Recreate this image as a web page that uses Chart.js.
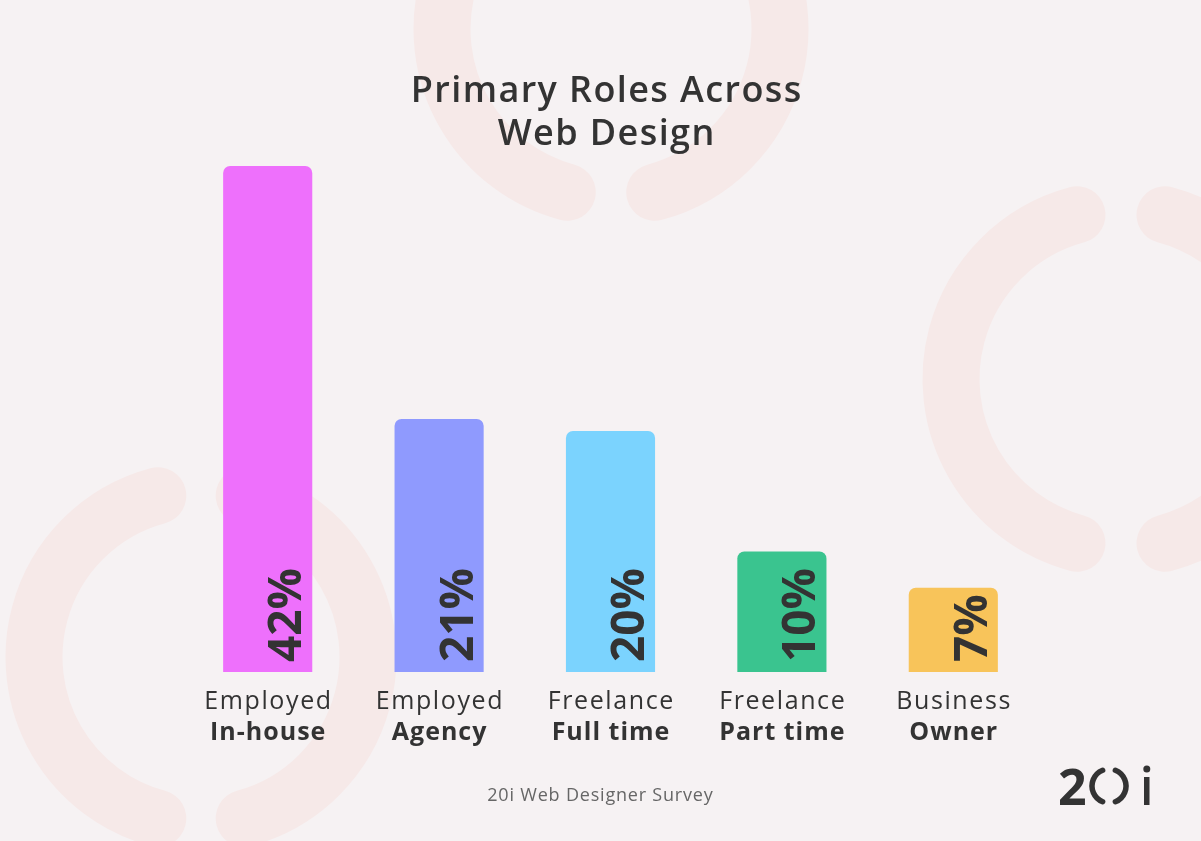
<!DOCTYPE html>
<html>
<head>
<meta charset="utf-8">
<title>Primary Roles Across Web Design</title>
<script src="https://cdn.jsdelivr.net/npm/chart.js@4/dist/chart.umd.min.js"></script>
<style>
  html, body { margin: 0; padding: 0; background: #f6f2f3; }
  #wrap { width: 1201px; height: 841px; position: relative; }
</style>
</head>
<body>
<div id="wrap"><canvas id="chart" width="1201" height="841"></canvas></div>
<script>
/* global Chart */

// ---------- Data ----------
const roleGroups = ['Employed', 'Employed', 'Freelance', 'Freelance', 'Business'];
const roleNames = ['In-house', 'Agency', 'Full time', 'Part time', 'Owner'];
const sharePct = [42, 21, 20, 10, 7];
const barColors = ['#ee70fc', '#8f9afe', '#7bd3fe', '#3ac48f', '#f8c45a'];

const TITLE_LINES = ['Primary Roles Across', 'Web Design'];
const SOURCE = '20i Web Designer Survey';

const FONT = "'Open Sans', 'DejaVu Sans', sans-serif";
const INK = '#333333';
const RING = '#f6e9e8';

// ---------- Decoration (background rings + logo) ----------

function ring(ctx, cx, cy, r) {
  const gap = 15 * Math.PI / 180;
  ctx.save();
  ctx.strokeStyle = RING;
  ctx.lineWidth = 57;
  ctx.lineCap = 'round';
  ctx.beginPath();
  ctx.arc(cx, cy, r, Math.PI / 2 + gap, Math.PI * 1.5 - gap);
  ctx.stroke();
  ctx.beginPath();
  ctx.arc(cx, cy, r, -Math.PI / 2 + gap, Math.PI / 2 - gap);
  ctx.stroke();
  ctx.restore();
}

const backdrop = {
  id: 'backdrop',
  beforeDraw(chart) {
    const { ctx, width, height } = chart;
    ctx.save();
    ctx.fillStyle = '#f6f2f3';
    ctx.fillRect(0, 0, width, height);
    ctx.restore();
    ring(ctx, 611, 29, 169);
    ring(ctx, 1121, 379, 170);
    ring(ctx, 201, 657, 167);
  },
};

// centred text with extra tracking (Montserrat-like width)
function spaced(ctx, text, x, y, spacing) {
  ctx.letterSpacing = spacing + 'px';
  ctx.fillText(text, x + spacing / 2, y);
  ctx.letterSpacing = '0px';
}

// ---------- Text overlay ----------

const overlay = {
  id: 'overlay',
  afterDatasetsDraw(chart) {
    const { ctx } = chart;
    const xScale = chart.scales.x;
    const meta = chart.getDatasetMeta(0);

    ctx.save();
    ctx.fillStyle = INK;

    // title
    ctx.textAlign = 'center';
    ctx.textBaseline = 'middle';
    ctx.font = `600 36px ${FONT}`;
    spaced(ctx, TITLE_LINES[0], 606, 92, 1.4);
    spaced(ctx, TITLE_LINES[1], 606, 135, 1.4);

    // category labels under the bars
    roleGroups.forEach((g, i) => {
      const x = xScale.getPixelForValue(i);
      ctx.font = `400 25px ${FONT}`;
      spaced(ctx, g, x, 702, 1.6);
      ctx.font = `700 25px ${FONT}`;
      spaced(ctx, roleNames[i], x, 733, 1.0);
    });

    // rotated value labels inside the bars
    meta.data.forEach((bar, i) => {
      ctx.save();
      ctx.translate(bar.x + bar.width / 2 - 11, bar.base - 10);
      ctx.rotate(-Math.PI / 2);
      ctx.textAlign = 'left';
      ctx.textBaseline = 'alphabetic';
      ctx.font = `700 46px ${FONT}`;
      ctx.fillText(sharePct[i] + '%', 0, 0);
      ctx.restore();
    });

    // source line
    ctx.fillStyle = '#666666';
    ctx.textAlign = 'center';
    ctx.textBaseline = 'middle';
    ctx.font = `400 18px ${FONT}`;
    spaced(ctx, SOURCE, 600, 796, 0.8);

    // 20i logo
    ctx.fillStyle = INK;
    ctx.textAlign = 'left';
    ctx.textBaseline = 'alphabetic';
    ctx.font = `700 50px ${FONT}`;
    ctx.fillText('2', 1058, 805);
    ctx.strokeStyle = INK;
    ctx.lineWidth = 5.5;
    ctx.lineCap = 'round';
    const gap = 22 * Math.PI / 180;
    ctx.beginPath();
    ctx.arc(1109, 786, 17, Math.PI / 2 + gap, Math.PI * 1.5 - gap);
    ctx.stroke();
    ctx.beginPath();
    ctx.arc(1109, 786, 17, -Math.PI / 2 + gap, Math.PI / 2 - gap);
    ctx.stroke();
    ctx.fillRect(1144, 777, 5.5, 28);
    ctx.beginPath();
    ctx.arc(1146.8, 769, 3.5, 0, Math.PI * 2);
    ctx.fill();
    ctx.restore();
  },
};

// ---------- Chart ----------

new Chart(document.getElementById('chart'), {
  type: 'bar',
  data: {
    labels: roleNames,
    datasets: [{
      data: sharePct,
      backgroundColor: barColors,
      borderWidth: 0,
      borderRadius: { topLeft: 7, topRight: 7, bottomLeft: 0, bottomRight: 0 },
      borderSkipped: false,
      barPercentage: 0.52,
      categoryPercentage: 1.0,
    }],
  },
  options: {
    responsive: false,
    animation: false,
    events: [],
    layout: { padding: { left: 182, right: 162, top: 166, bottom: 169 } },
    plugins: {
      legend: { display: false },
      title: { display: false },
      tooltip: { enabled: false },
    },
    scales: {
      x: { display: false },
      y: { display: false, min: 0, max: 42 },
    },
  },
  plugins: [backdrop, overlay],
});
</script>
</body>
</html>
